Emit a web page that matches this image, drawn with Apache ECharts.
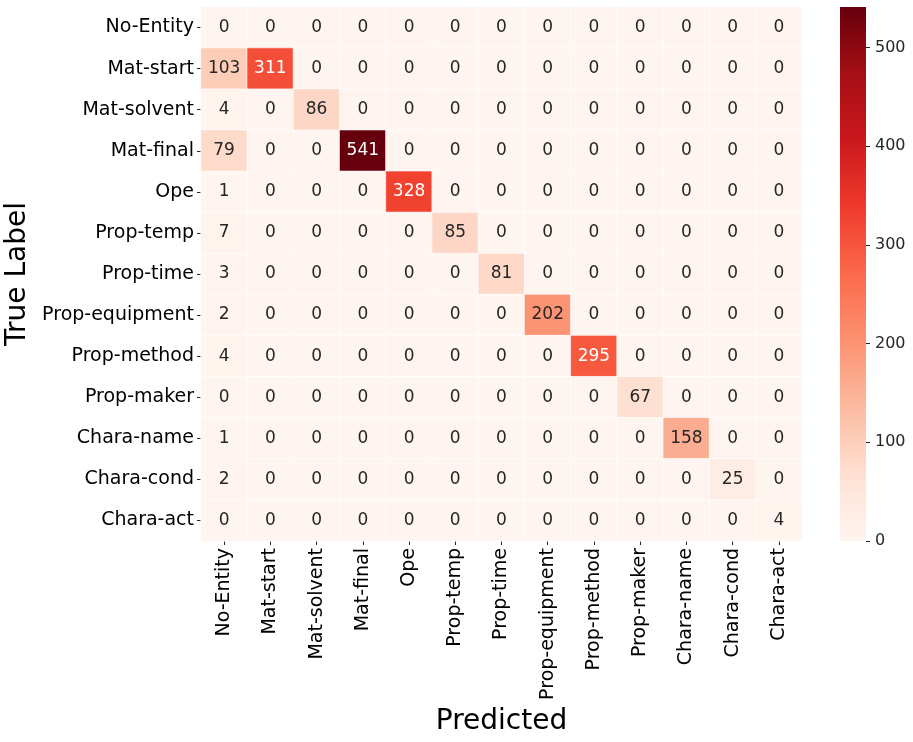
<!DOCTYPE html>
<html>
<head>
<meta charset="utf-8">
<script src="https://cdn.jsdelivr.net/npm/echarts@6/dist/echarts.min.js"></script>
<style>
html,body{margin:0;padding:0;background:#fff;}
#main{width:913px;height:742px;}
</style>
</head>
<body>
<div id="main"></div>
<script>
// 类别
var labels = ['No-Entity','Mat-start','Mat-solvent','Mat-final','Ope','Prop-temp','Prop-time',
    'Prop-equipment','Prop-method','Prop-maker','Chara-name','Chara-cond','Chara-act'];

// 混淆矩阵 (行: 真实, 列: 预测)
var row0  = [0,0,0,0,0,0,0,0,0,0,0,0,0];
var row1  = [103,311,0,0,0,0,0,0,0,0,0,0,0];
var row2  = [4,0,86,0,0,0,0,0,0,0,0,0,0];
var row3  = [79,0,0,541,0,0,0,0,0,0,0,0,0];
var row4  = [1,0,0,0,328,0,0,0,0,0,0,0,0];
var row5  = [7,0,0,0,0,85,0,0,0,0,0,0,0];
var row6  = [3,0,0,0,0,0,81,0,0,0,0,0,0];
var row7  = [2,0,0,0,0,0,0,202,0,0,0,0,0];
var row8  = [4,0,0,0,0,0,0,0,295,0,0,0,0];
var row9  = [0,0,0,0,0,0,0,0,0,67,0,0,0];
var row10 = [1,0,0,0,0,0,0,0,0,0,158,0,0];
var row11 = [2,0,0,0,0,0,0,0,0,0,0,25,0];
var row12 = [0,0,0,0,0,0,0,0,0,0,0,0,4];
var matrix = [row0,row1,row2,row3,row4,row5,row6,row7,row8,row9,row10,row11,row12];

var cbTicks = [0,100,200,300,400,500];
var vmax = 541;

var reds = ['#fff5f0','#fee0d2','#fcbba1','#fc9272','#fb6a4a','#ef3b2c','#cb181d','#a50f15','#67000d'];
var font = 'DejaVu Sans';

var data = [];
for (var i = 0; i < matrix.length; i++) {
    for (var j = 0; j < matrix[i].length; j++) {
        var v = matrix[i][j];
        data.push({
            value: [j, i, v],
            label: {color: v > 250 ? '#ffffff' : '#262626'}
        });
    }
}

// 色条渐变
var stops = [];
for (var k = 0; k < reds.length; k++) {
    stops.push({offset: k / (reds.length - 1), color: reds[k]});
}

var chart = echarts.init(document.getElementById('main'));
var option = {
    animation: false,
    backgroundColor: '#fff',
    grid: [
        {left: 201, top: 7, width: 601, height: 534, outerBoundsMode: 'none'},
        {left: 840, top: 7, width: 26, height: 534, outerBoundsMode: 'none'}
    ],
    graphic: [{
        type: 'rect',
        left: 840,
        top: 7,
        shape: {width: 26, height: 534},
        style: {fill: new echarts.graphic.LinearGradient(0, 1, 0, 0, stops)},
        z: 0
    }],
    xAxis: [
        {
            type: 'category',
            data: labels,
            gridIndex: 0,
            position: 'bottom',
            axisLine: {show: false},
            axisTick: {show: true, length: 4, alignWithLabel: true, lineStyle: {color: '#262626'}},
            axisLabel: {rotate: 90, fontSize: 19, fontFamily: font, color: '#000', margin: 7, interval: 0},
            splitLine: {show: false},
            name: 'Predicted',
            nameLocation: 'middle',
            nameGap: 165,
            nameTextStyle: {fontSize: 28, fontFamily: font, color: '#000'}
        },
        {
            type: 'value',
            gridIndex: 1,
            min: 0,
            max: 1,
            show: false
        }
    ],
    yAxis: [
        {
            type: 'category',
            data: labels,
            gridIndex: 0,
            inverse: true,
            axisLine: {show: false},
            axisTick: {show: true, length: 4, alignWithLabel: true, lineStyle: {color: '#262626'}},
            axisLabel: {fontSize: 19, fontFamily: font, color: '#000', margin: 7, interval: 0},
            splitLine: {show: false},
            name: 'True Label',
            nameLocation: 'middle',
            nameGap: 166,
            nameTextStyle: {fontSize: 28, fontFamily: font, color: '#000'}
        },
        {
            type: 'value',
            gridIndex: 1,
            position: 'right',
            min: 0,
            max: vmax,
            interval: 100,
            axisLine: {show: false, onZero: false},
            axisTick: {show: true, length: 4, lineStyle: {color: '#262626'}},
            axisLabel: {fontSize: 16, fontFamily: font, color: '#262626', margin: 9,
                showMaxLabel: false,
                formatter: function (v) { return cbTicks.indexOf(v) >= 0 ? String(v) : ''; }},
            splitLine: {show: false}
        }
    ],
    visualMap: {
        type: 'continuous',
        show: false,
        min: 0,
        max: vmax,
        seriesIndex: 0,
        inRange: {color: reds}
    },
    series: [
        {
            type: 'heatmap',
            xAxisIndex: 0,
            yAxisIndex: 0,
            data: data,
            itemStyle: {borderColor: '#ffffff', borderWidth: 0.6},
            label: {show: true, fontSize: 17, fontFamily: font}
        }
    ]
};
chart.setOption(option);
window.onresize = chart.resize;
</script>
</body>
</html>
